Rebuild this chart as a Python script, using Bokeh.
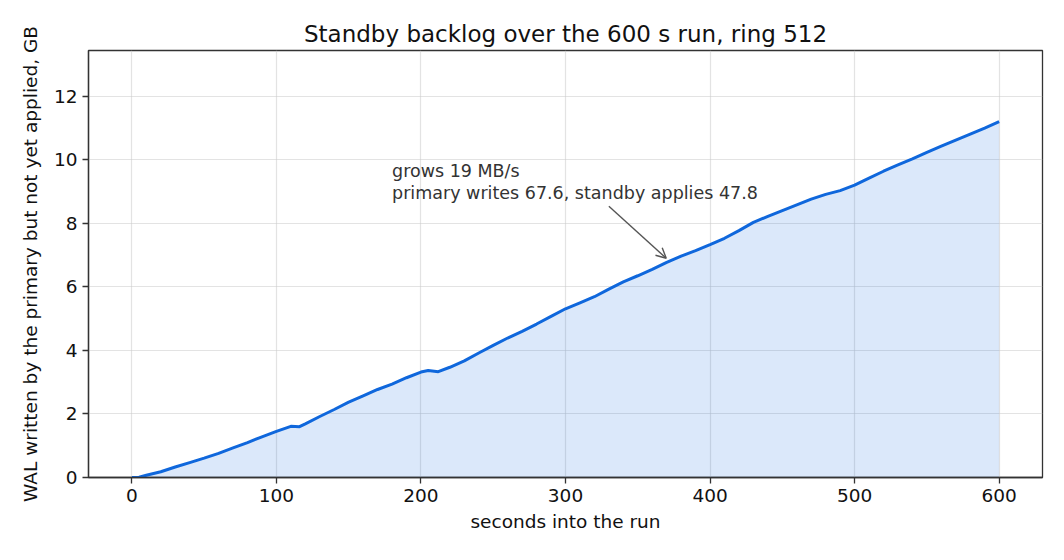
from bokeh.plotting import figure
from bokeh.models import Range1d, Arrow, OpenHead, ColumnDataSource, FixedTicker, Title
from bokeh.core.properties import value
from bokeh.embed import file_html
from bokeh.resources import INLINE

# ---- data ----
t_seconds = [0, 5, 10, 20, 30, 40, 50, 60, 70, 80, 90, 100, 110, 116, 120, 130, 140,
             150, 160, 170, 180, 190, 200, 205, 212, 220, 230, 240, 250, 260, 270, 280,
             290, 300, 310, 320, 330, 340, 350, 360, 370, 380, 390, 400, 410, 420, 430,
             440, 450, 460, 470, 480, 490, 500, 510, 520, 530, 540, 550, 560, 570, 580,
             590, 600]
backlog_gb = [0.00, 0.01, 0.07, 0.18, 0.33, 0.47, 0.61, 0.76, 0.93, 1.10, 1.28, 1.45,
              1.61, 1.60, 1.69, 1.92, 2.14, 2.37, 2.57, 2.77, 2.94, 3.14, 3.32, 3.37,
              3.33, 3.47, 3.67, 3.92, 4.16, 4.39, 4.60, 4.83, 5.07, 5.31, 5.50, 5.69,
              5.93, 6.16, 6.35, 6.55, 6.77, 6.97, 7.14, 7.33, 7.53, 7.77, 8.03, 8.22,
              8.40, 8.58, 8.76, 8.91, 9.03, 9.20, 9.42, 9.64, 9.84, 10.03, 10.23, 10.43,
              10.62, 10.81, 11.00, 11.20]
x_ticks = [0, 100, 200, 300, 400, 500, 600]
y_ticks = [0, 2, 4, 6, 8, 10, 12]

title_text = "Standby backlog over the 600 s run, ring 512"
x_label = "seconds into the run"
y_label = "WAL written by the primary but not yet applied, GB"
annotation_lines = ["grows 19 MB/s", "primary writes 67.6, standby applies 47.8"]
annotation_x = [180, 180]
annotation_y = [9.65, 8.95]
arrow_from = (330, 8.54)
arrow_to = (369.7, 6.9)

FONT = "DejaVu Sans"
BLUE = "#0f67dc"

p = figure(width=1048, height=544, output_backend="svg", toolbar_location=None,
           x_range=Range1d(-30, 630), y_range=Range1d(0, 13.44),
           min_border_left=88, min_border_right=6, min_border_top=50,
           min_border_bottom=67)
p.title = None
p.add_layout(Title(text=title_text, align="center", text_font=FONT,
                   text_font_size="23px", text_font_style="normal",
                   text_color="#111111", standoff=8), "above")

p.outline_line_color = "#333333"
p.outline_line_width = 1.3
p.background_fill_color = "white"
p.border_fill_color = "white"

src = ColumnDataSource(dict(t=t_seconds, y=backlog_gb, zero=[0] * len(t_seconds)))
p.varea(x="t", y1="zero", y2="y", source=src, fill_color=BLUE, fill_alpha=0.15)
p.line(x="t", y="y", source=src, line_color=BLUE, line_width=3)

p.text(x=annotation_x, y=annotation_y, text=annotation_lines,
       text_font=value(FONT), text_font_size="17.5px", text_color="#333333",
       text_baseline="alphabetic", text_align="left")
p.add_layout(Arrow(end=OpenHead(size=10, line_color="#555555", line_width=1.4),
                   x_start=arrow_from[0], y_start=arrow_from[1],
                   x_end=arrow_to[0], y_end=arrow_to[1],
                   line_color="#555555", line_width=1.4))

for ax, ticks, lab in ((p.xaxis, x_ticks, x_label), (p.yaxis, y_ticks, y_label)):
    ax.ticker = FixedTicker(ticks=ticks)
    ax.axis_label = lab
    ax.axis_label_text_font = FONT
    ax.axis_label_text_font_size = "18.5px"
    ax.axis_label_text_font_style = "normal"
    ax.axis_label_text_color = "#111111"
    ax.major_label_text_font = FONT
    ax.major_label_text_font_size = "18.5px"
    ax.major_label_text_color = "#111111"
    ax.axis_line_color = "#333333"
    ax.axis_line_width = 1.3
    ax.major_tick_line_color = "#333333"
    ax.major_tick_line_width = 1.3
    ax.major_tick_out = 6
    ax.major_tick_in = 0
    ax.minor_tick_line_color = None

p.xaxis.major_label_standoff = 5
p.xaxis.axis_label_standoff = 6
p.yaxis.major_label_standoff = 5
p.yaxis.axis_label_standoff = 10

for g in (p.xgrid, p.ygrid):
    g.grid_line_color = "#cccccc"
    g.grid_line_alpha = 0.55
    g.grid_line_width = 1.2
p.xgrid.ticker = FixedTicker(ticks=x_ticks)
p.ygrid.ticker = FixedTicker(ticks=y_ticks)

open("out.html", "w").write(file_html(p, INLINE))
